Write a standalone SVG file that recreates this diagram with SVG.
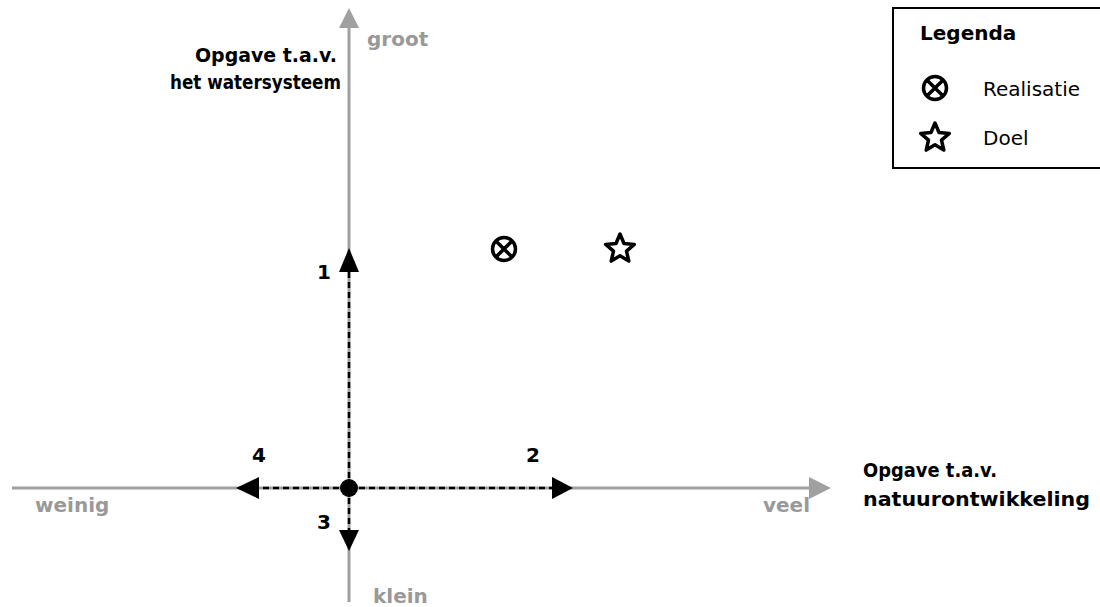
<svg xmlns="http://www.w3.org/2000/svg" width="1100" height="607" viewBox="0 0 1100 607">
<defs>
<style>
.axis{stroke:#a0a0a0;stroke-width:3;fill:none}
.ahead{fill:#a0a0a0}
.dash{stroke:#000;stroke-width:2.5;stroke-dasharray:6,4;fill:none}
.bhead{fill:#000}
.gl{font-family:"DejaVu Sans",sans-serif;font-weight:bold;font-size:20px;fill:#999}
.bl{font-family:"DejaVu Sans",sans-serif;font-weight:bold;font-size:20px;fill:#000}
.nl{font-family:"DejaVu Sans",sans-serif;font-weight:bold;font-size:20px;fill:#000}
.ll{font-family:"DejaVu Sans",sans-serif;font-size:20px;fill:#000}
.sym{stroke:#000;stroke-width:3.5;fill:none;stroke-linejoin:round}
</style>
<symbol id="cx" viewBox="-14 -14 28 28" overflow="visible">
<circle cx="0" cy="0" r="11.5" class="sym"/>
<path d="M-8.1,-8.1 L8.1,8.1 M8.1,-8.1 L-8.1,8.1" class="sym"/>
</symbol>
<symbol id="star" viewBox="-16 -16 32 32" overflow="visible">
<polygon class="sym" points="0,-15 4,-5.5 14.3,-4.6 6.5,2.1 8.8,12.1 0,6.8 -8.8,12.1 -6.5,2.1 -14.3,-4.6 -4,-5.5"/>
</symbol>
</defs>
<g id="connectors">
<line class="axis" x1="349" y1="602" x2="349" y2="26"/>
<polygon class="ahead" points="349,8 339,28 359,28"/>
<line class="axis" x1="12" y1="488" x2="812" y2="488"/>
<polygon class="ahead" points="831,488 809,477 809,499"/>
<line class="dash" x1="349" y1="488" x2="349" y2="270"/>
<polygon class="bhead" points="349,248 339,272 359,272"/>
<line class="dash" x1="349" y1="488" x2="555" y2="488"/>
<polygon class="bhead" points="573,488 552,477 552,499"/>
<line class="dash" x1="349" y1="488" x2="258" y2="488"/>
<polygon class="bhead" points="236,488 259,477 259,499"/>
<line class="dash" x1="349" y1="488" x2="349" y2="532"/>
<polygon class="bhead" points="349,551 339,530 359,530"/>
</g>
<g id="origin"><circle cx="349" cy="488" r="9" fill="#000"/></g>
<g id="axis-labels">
<text class="gl" x="367" y="46">groot</text>
<text class="gl" x="373" y="603">klein</text>
<text class="gl" x="35" y="512">weinig</text>
<text class="gl" x="810" y="512" text-anchor="end">veel</text>
<text class="bl" x="195" y="62" textLength="142" lengthAdjust="spacingAndGlyphs">Opgave t.a.v.</text>
<text class="bl" x="170" y="89" textLength="171" lengthAdjust="spacingAndGlyphs">het watersysteem</text>
<text class="bl" x="863" y="477" textLength="134" lengthAdjust="spacingAndGlyphs">Opgave t.a.v.</text>
<text class="bl" x="863" y="506" textLength="227" lengthAdjust="spacingAndGlyphs">natuurontwikkeling</text>
</g>
<g id="numbers">
<text class="nl" x="317" y="279">1</text>
<text class="nl" x="526" y="462">2</text>
<text class="nl" x="317" y="529">3</text>
<text class="nl" x="252" y="462">4</text>
</g>
<g id="realisatie"><use href="#cx" x="490" y="235" width="28" height="28"/></g>
<g id="doel"><use href="#star" x="604" y="233" width="32" height="32"/></g>
<g id="legend">
<rect x="893" y="8" width="210" height="160" fill="#fff" stroke="#000" stroke-width="2"/>
<text class="bl" x="920" y="40" font-size="21">Legenda</text>
<use href="#cx" x="921" y="74" width="28" height="28"/>
<text class="ll" x="983" y="96">Realisatie</text>
<use href="#star" x="919" y="122" width="32" height="32"/>
<text class="ll" x="983" y="145">Doel</text>
</g>
</svg>
